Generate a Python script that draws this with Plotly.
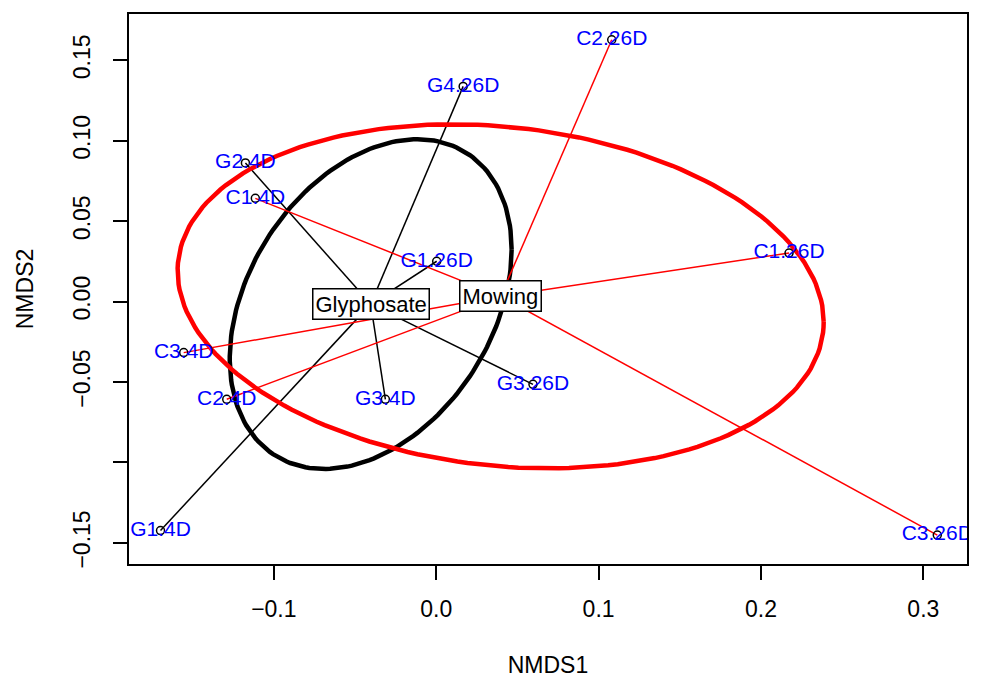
import numpy as np
import plotly.graph_objects as go

# ---- data ----
sites = ["G1.4D", "G2.4D", "G3.4D", "G4.26D", "G1.26D", "G3.26D",
         "C1.4D", "C2.4D", "C3.4D", "C1.26D", "C2.26D", "C3.26D"]
nmds1 = [-0.1698, -0.1175, -0.0313, 0.0166, 0.0003, 0.0596,
         -0.1114, -0.1290, -0.1555, 0.2173, 0.1081, 0.3086]
nmds2 = [-0.1423, 0.0862, -0.0607, 0.1338, 0.0251, -0.0514,
         0.0642, -0.0607, -0.0317, 0.0302, 0.1628, -0.1451]
treatment = ["Glyphosate"] * 6 + ["Mowing"] * 6
groups = ["Glyphosate", "Mowing"]
group_colors = {"Glyphosate": "black", "Mowing": "red"}

xticks = [-0.1, 0.0, 0.1, 0.2, 0.3]
xticklabels = ["\u22120.1", "0.0", "0.1", "0.2", "0.3"]
yticks = [-0.15, -0.10, -0.05, 0.00, 0.05, 0.10, 0.15]
yticklabels = ["\u22120.15", "", "\u22120.05", "0.00", "0.05", "0.10", "0.15"]

x = np.array(nmds1)
y = np.array(nmds2)
trt = np.array(treatment)

FONT = "Liberation Sans, Arial"
fig = go.Figure()
annotations = []

for g in groups:
    m = trt == g
    px, py = x[m], y[m]
    cx, cy = px.mean(), py.mean()
    col = group_colors[g]
    # spider lines from centroid
    lx, ly = [], []
    for a, b in zip(px, py):
        lx += [cx, a, None]
        ly += [cy, b, None]
    fig.add_trace(go.Scatter(x=lx, y=ly, mode="lines",
                             line=dict(color=col, width=1.5),
                             hoverinfo="skip", showlegend=False))
    # 1-sd ellipse (vegan ordiellipse, kind = "sd")
    cov = np.cov(np.vstack([px, py]))
    L = np.linalg.cholesky(cov).T
    t = np.linspace(0, 2 * np.pi, 200)
    circ = np.column_stack([np.cos(t), np.sin(t)])
    ell = circ @ L + np.array([cx, cy])
    fig.add_trace(go.Scatter(x=ell[:, 0], y=ell[:, 1], mode="lines",
                             line=dict(color=col, width=4.5),
                             hoverinfo="skip", showlegend=False))
    annotations.append(dict(x=cx, y=cy, text=g, showarrow=False,
                            font=dict(family=FONT, size=22, color="black"),
                            bgcolor="white", bordercolor="black", borderwidth=1.5,
                            borderpad=2, xref="x", yref="y"))

fig.add_trace(go.Scatter(x=x, y=y, mode="markers+text", text=sites,
                         textposition="middle center",
                         textfont=dict(family=FONT, size=21, color="#0000FF"),
                         marker=dict(symbol="circle-open", size=8,
                                     color="black", line=dict(width=1.5)),
                         showlegend=False))

axis_common = dict(showline=True, linecolor="black", linewidth=1.5, mirror=True,
                   ticks="outside", ticklen=14, tickwidth=1.5, tickcolor="black",
                   showgrid=False, zeroline=False,
                   tickfont=dict(family=FONT, size=23, color="black"),
                   title_font=dict(family=FONT, size=23, color="black"))

fig.update_layout(
    width=965, height=670,
    margin=dict(l=121, r=4, t=4, b=112),
    paper_bgcolor="white", plot_bgcolor="white",
    showlegend=False,
    annotations=annotations,
    xaxis=dict(range=[-0.1892, 0.3269], tickvals=xticks, ticktext=xticklabels,
               title=dict(text="NMDS1", standoff=36), ticklabelstandoff=10, **axis_common),
    yaxis=dict(range=[-0.1631, 0.1788], tickvals=yticks, ticktext=yticklabels,
               tickangle=-90, title=dict(text="NMDS2", standoff=29), ticklabelstandoff=14,
               **axis_common),
)

fig.write_html("out.html")
